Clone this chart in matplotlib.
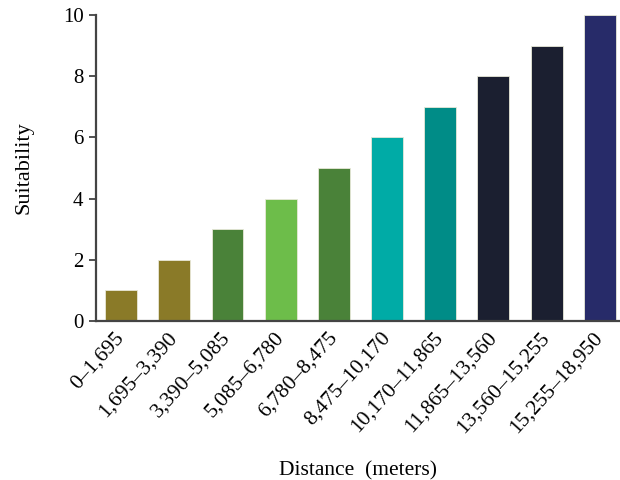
import matplotlib.pyplot as plt
import numpy as np

plt.rcParams["font.family"] = ["Liberation Serif", "DejaVu Serif"]

ranges = ["0\u20131,695", "1,695\u20133,390", "3,390\u20135,085", "5,085\u20136,780",
          "6,780\u20138,475", "8,475\u201310,170", "10,170\u201311,865",
          "11,865\u201313,560", "13,560\u201315,255", "15,255\u201318,950"]
suitability = [1, 2, 3, 4, 5, 6, 7, 8, 9, 10]
bar_colors = ["#8a7a28", "#8a7a28", "#4a8239", "#6dbd4a", "#4a8239",
              "#00aba6", "#008c87", "#1b1f30", "#1b1f30", "#272b69"]

fig = plt.figure(figsize=(6.2, 4.8), dpi=100)
ax = fig.add_axes([0.155, 0.331, 0.845, 0.638])

x = np.arange(len(ranges))
ax.bar(x, suitability, width=0.6, color=bar_colors, edgecolor="#e8e8d8", linewidth=0.6)

ax.set_xlim(-0.47, 9.38)
ax.set_ylim(0, 10)
ax.set_yticks(np.arange(0, 11, 2))
ax.set_xticks(x)
ax.set_xticklabels(ranges, rotation=48, ha="right", va="center",
                   rotation_mode="anchor", fontsize=15.5)
ax.tick_params(axis="y", labelsize=15, length=5, width=1.2, color="#333333", pad=4)
ax.tick_params(axis="x", length=0, pad=10)

for side in ["top", "right"]:
    ax.spines[side].set_visible(False)
for side in ["left", "bottom"]:
    ax.spines[side].set_linewidth(1.6)
    ax.spines[side].set_color("#444444")

ax.set_ylabel("Suitability", fontsize=16, labelpad=21)
ax.set_xlabel("Distance  (meters)", fontsize=15.5, labelpad=17)

plt.savefig("out.png")
